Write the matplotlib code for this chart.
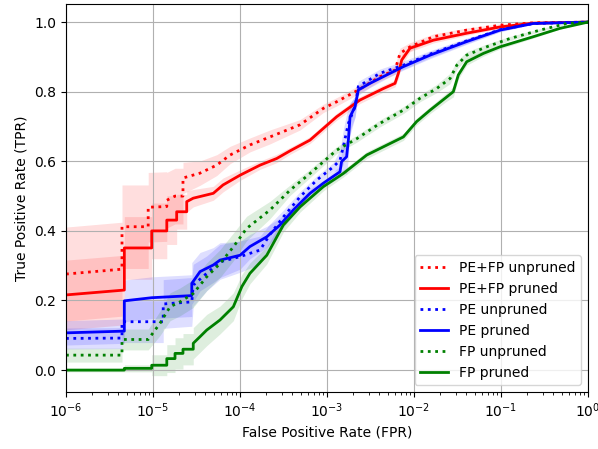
import matplotlib

matplotlib.use("Agg")
import matplotlib.pyplot as plt
import numpy as np

LABELS = [
    "PE+FP unpruned",
    "PE+FP pruned",
    "PE unpruned",
    "PE pruned",
    "FP unpruned",
    "FP pruned",
]

# PE+FP unpruned
pefp_unpruned_fpr = [1e-6, 4.4e-6, 4.4e-6, 8.8e-6, 8.8e-6, 1.44e-5, 1.44e-5, 1.79e-5, 2.21e-5, 2.21e-5,
                     3.47e-5, 5.4e-5, 7.68e-5, 1.3e-4, 2.21e-4, 4.9e-4, 9.06e-4, 1.29e-3, 2.29e-3, 4.06e-3,
                     6.05e-3, 6.9e-3, 9.0e-3, 1.67e-2, 4.03e-2, 9.75e-2, 0.235, 1.0]
pefp_unpruned_tpr = [0.276, 0.29, 0.412, 0.412, 0.468, 0.47, 0.488, 0.50, 0.50, 0.552,
                     0.566, 0.589, 0.618, 0.647, 0.670, 0.705, 0.752, 0.771, 0.805, 0.843,
                     0.862, 0.91, 0.929, 0.958, 0.977, 0.991, 0.998, 1.0]
pefp_unpruned_err = [0.135, 0.135, 0.12, 0.12, 0.10, 0.10, 0.08, 0.08, 0.08, 0.045,
                     0.035, 0.03, 0.025, 0.02, 0.02, 0.015, 0.012, 0.012, 0.012, 0.012,
                     0.012, 0.015, 0.012, 0.008, 0.006, 0.004, 0.002, 0.0]

# PE+FP pruned
pefp_pruned_fpr = [1e-6, 4.68e-6, 4.68e-6, 9.66e-6, 9.66e-6, 1.44e-5, 1.44e-5, 1.87e-5, 1.87e-5, 2.44e-5,
                   2.44e-5, 2.9e-5, 4.93e-5, 6.38e-5, 1.0e-4, 1.7e-4, 2.64e-4, 3.76e-4, 6.38e-4, 1.29e-3,
                   2.39e-3, 4.44e-3, 6.05e-3, 6.61e-3, 7.22e-3, 9.0e-3, 1.67e-2, 4.03e-2, 9.75e-2, 0.235, 1.0]
pefp_pruned_tpr = [0.216, 0.23, 0.351, 0.351, 0.40, 0.40, 0.431, 0.431, 0.455, 0.455,
                   0.484, 0.494, 0.508, 0.532, 0.56, 0.589, 0.608, 0.63, 0.661, 0.728,
                   0.776, 0.809, 0.824, 0.853, 0.891, 0.925, 0.948, 0.968, 0.986, 0.997, 1.0]
pefp_pruned_err = [0.10, 0.10, 0.09, 0.09, 0.08, 0.08, 0.07, 0.07, 0.05, 0.05,
                   0.03, 0.025, 0.02, 0.02, 0.015, 0.012, 0.012, 0.01, 0.01, 0.01,
                   0.01, 0.01, 0.01, 0.015, 0.015, 0.01, 0.008, 0.006, 0.004, 0.002, 0.0]

# PE unpruned
pe_unpruned_fpr = [1e-6, 4.4e-6, 4.4e-6, 1.31e-5, 1.31e-5, 2.79e-5, 2.9e-5, 4.14e-5, 5.89e-5, 1.0e-4,
                   1.7e-4, 2.21e-4, 3.15e-4, 4.9e-4, 7.62e-4, 1.18e-3, 1.41e-3, 1.54e-3, 1.76e-3, 2.1e-3,
                   2.29e-3, 4.06e-3, 7.54e-3, 1.53e-2, 4.03e-2, 9.75e-2, 0.235, 1.0]
pe_unpruned_tpr = [0.091, 0.092, 0.139, 0.139, 0.19, 0.196, 0.244, 0.278, 0.311, 0.326,
                   0.345, 0.39, 0.44, 0.498, 0.546, 0.584, 0.603, 0.642, 0.709, 0.757,
                   0.815, 0.853, 0.876, 0.908, 0.946, 0.978, 0.996, 1.0]
pe_unpruned_err = [0.03, 0.03, 0.06, 0.06, 0.07, 0.07, 0.06, 0.05, 0.05, 0.045,
                   0.04, 0.03, 0.02, 0.015, 0.012, 0.012, 0.03, 0.05, 0.05, 0.03,
                   0.015, 0.012, 0.012, 0.01, 0.008, 0.005, 0.002, 0.0]

# PE pruned
pe_pruned_fpr = [1e-6, 4.68e-6, 4.68e-6, 9.66e-6, 2.79e-5, 2.79e-5, 3.47e-5, 4.93e-5, 5.89e-5, 1.0e-4,
                 1.3e-4, 2.03e-4, 2.88e-4, 4.1e-4, 6.38e-4, 9.06e-4, 1.41e-3, 1.47e-3, 1.68e-3, 1.76e-3,
                 1.84e-3, 2.1e-3, 2.29e-3, 3.12e-3, 4.85e-3, 7.54e-3, 1.53e-2, 4.03e-2, 9.75e-2, 0.235, 1.0]
pe_pruned_tpr = [0.107, 0.112, 0.199, 0.208, 0.214, 0.249, 0.283, 0.302, 0.316, 0.330,
                 0.355, 0.383, 0.417, 0.46, 0.508, 0.537, 0.570, 0.599, 0.613, 0.661,
                 0.728, 0.757, 0.805, 0.824, 0.848, 0.872, 0.905, 0.944, 0.977, 0.996, 1.0]
pe_pruned_err = [0.035, 0.035, 0.06, 0.06, 0.06, 0.06, 0.055, 0.05, 0.05, 0.04,
                 0.035, 0.03, 0.02, 0.015, 0.012, 0.012, 0.015, 0.03, 0.05, 0.05,
                 0.04, 0.03, 0.015, 0.012, 0.01, 0.01, 0.01, 0.008, 0.005, 0.002, 0.0]

# FP unpruned
fp_unpruned_fpr = [1e-6, 4.4e-6, 4.4e-6, 8.8e-6, 1.2e-5, 1.57e-5, 2.04e-5, 2.9e-5, 4.14e-5, 5.89e-5,
                   8.38e-5, 1.19e-4, 2.21e-4, 3.76e-4, 6.38e-4, 1.29e-3, 2.2e-3, 4.06e-3, 7.54e-3, 1.17e-2,
                   1.82e-2, 2.6e-2, 3.1e-2, 4.03e-2, 6.85e-2, 0.127, 0.281, 0.569, 1.0]
fp_unpruned_tpr = [0.043, 0.043, 0.088, 0.088, 0.134, 0.182, 0.196, 0.22, 0.268, 0.306,
                   0.354, 0.407, 0.46, 0.517, 0.565, 0.632, 0.665, 0.709, 0.747, 0.781,
                   0.809, 0.838, 0.876, 0.905, 0.929, 0.953, 0.977, 0.996, 1.0]
fp_unpruned_err = [0.02, 0.02, 0.03, 0.03, 0.035, 0.04, 0.04, 0.04, 0.04, 0.04,
                   0.04, 0.035, 0.025, 0.015, 0.012, 0.01, 0.01, 0.01, 0.01, 0.01,
                   0.012, 0.015, 0.012, 0.01, 0.008, 0.006, 0.004, 0.002, 0.0]

# FP pruned
fp_pruned_fpr = [1e-6, 4.68e-6, 4.68e-6, 9.66e-6, 9.66e-6, 1.44e-5, 1.44e-5, 1.79e-5, 1.79e-5, 2.21e-5,
                 2.21e-5, 2.9e-5, 2.9e-5, 3.47e-5, 4.14e-5, 5.89e-5, 8.38e-5, 1.05e-4, 1.3e-4, 2.03e-4,
                 3.15e-4, 4.9e-4, 9.06e-4, 1.54e-3, 2.86e-3, 7.54e-3, 1.07e-2, 1.53e-2, 2.38e-2, 2.83e-2,
                 3.23e-2, 4.03e-2, 6.27e-2, 9.75e-2, 0.235, 0.476, 1.0]
fp_pruned_tpr = [0.0, 0.0, 0.005, 0.005, 0.014, 0.014, 0.033, 0.033, 0.048, 0.048,
                 0.06, 0.06, 0.077, 0.096, 0.115, 0.144, 0.182, 0.24, 0.278, 0.33,
                 0.417, 0.469, 0.527, 0.565, 0.618, 0.67, 0.714, 0.747, 0.785, 0.80,
                 0.848, 0.886, 0.91, 0.929, 0.958, 0.982, 1.0]
fp_pruned_err = [0.005, 0.005, 0.01, 0.01, 0.03, 0.03, 0.04, 0.04, 0.045, 0.045,
                 0.045, 0.045, 0.045, 0.045, 0.045, 0.04, 0.04, 0.035, 0.03, 0.025,
                 0.02, 0.015, 0.012, 0.01, 0.01, 0.01, 0.01, 0.01, 0.012, 0.015,
                 0.012, 0.01, 0.008, 0.006, 0.004, 0.002, 0.0]


def plot_roc() -> None:
    series = [
        (pefp_unpruned_fpr, pefp_unpruned_tpr, pefp_unpruned_err, "r", ":"),
        (pefp_pruned_fpr, pefp_pruned_tpr, pefp_pruned_err, "r", "-"),
        (pe_unpruned_fpr, pe_unpruned_tpr, pe_unpruned_err, "b", ":"),
        (pe_pruned_fpr, pe_pruned_tpr, pe_pruned_err, "b", "-"),
        (fp_unpruned_fpr, fp_unpruned_tpr, fp_unpruned_err, "g", ":"),
        (fp_pruned_fpr, fp_pruned_tpr, fp_pruned_err, "g", "-"),
    ]

    fig = plt.figure(figsize=(5.98, 4.49), dpi=100)
    ax = fig.add_axes([0.1104, 0.1269, 0.8729, 0.8642])

    for (fpr, tpr, err, color, ls), label in zip(series, LABELS):
        fpr = np.asarray(fpr)
        tpr = np.asarray(tpr)
        err = np.asarray(err)
        ax.fill_between(fpr, tpr - err, tpr + err, color=color, alpha=0.13, lw=0)
        ax.plot(fpr, tpr, color=color, linestyle=ls, lw=2, label=label)

    ax.set_xscale("log")
    ax.set_xlim(1e-6, 1.0)
    ax.set_ylim(-0.063, 1.052)
    ax.set_yticks([0.0, 0.2, 0.4, 0.6, 0.8, 1.0])
    ax.set_xlabel("False Positive Rate (FPR)")
    ax.set_ylabel("True Positive Rate (TPR)")
    ax.grid(True)
    ax.legend(loc="lower right")
    fig.savefig("out.png", dpi=100)


def main() -> None:
    plot_roc()


if __name__ == "__main__":
    main()
